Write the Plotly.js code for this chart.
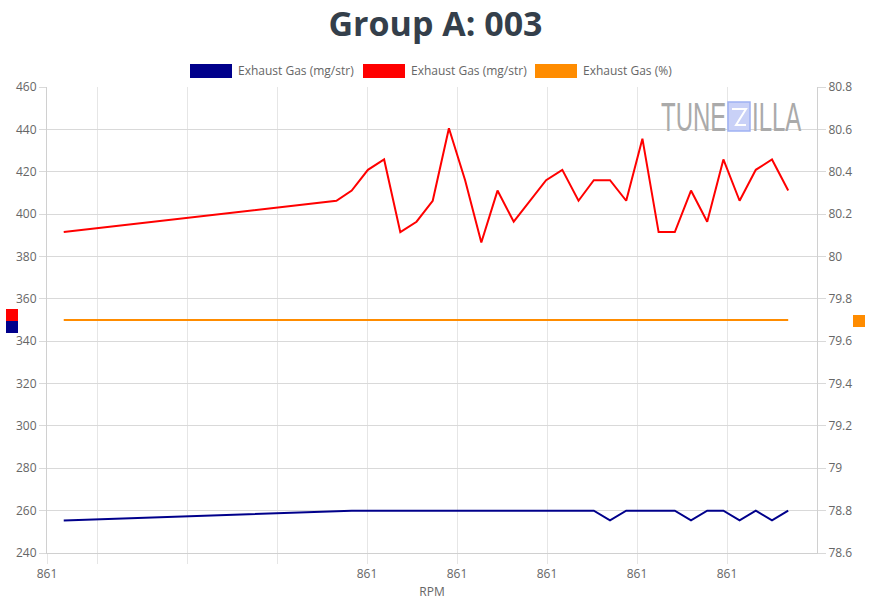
<!DOCTYPE html>
<html>
<head>
<meta charset="utf-8">
<script src="https://cdn.plot.ly/plotly-3.0.1.min.js"></script>
<style>
  html, body { margin: 0; padding: 0; background: #fff; }
  #wrap { position: relative; width: 871px; height: 600px; }
  #chart { width: 871px; height: 600px; }
  .wm { position: absolute; top: 97px; font-family: 'Liberation Sans', Arial, sans-serif;
        font-size: 40px; line-height: 40px; color: #aaaaaa; transform: scaleX(0.6);
        transform-origin: 0 0; white-space: nowrap; pointer-events: none; }
</style>
</head>
<body>
<div id="wrap">
  <div id="chart"></div>
  <div class="wm" style="left:661px">TUNE</div>
  <div class="wm" style="left:752px">ILLA</div>
</div>
<script>
// RPM readings (all round to 861 on the axis)
var rpm = [860.663, 860.966, 860.983, 861.001, 861.019, 861.037, 861.055, 861.073,
  861.091, 861.109, 861.127, 861.145, 861.163, 861.181, 861.199, 861.217,
  861.235, 861.252, 861.270, 861.288, 861.306, 861.324, 861.342, 861.360,
  861.378, 861.396, 861.414, 861.432, 861.450, 861.468];

var exhaustBlue = [255.4, 260, 260, 260, 260, 260, 260, 260,
  260, 260, 260, 260, 260, 260, 260, 260,
  260, 260, 255.4, 260, 260, 260, 260, 255.4,
  260, 260, 255.4, 260, 255.4, 260];

var exhaustRed = [391.5, 406.3, 411.1, 420.9, 425.8, 391.5, 396.4, 406.3,
  440.5, 416.0, 386.6, 411.1, 396.4, 406.3, 416.0, 420.9,
  406.3, 416.0, 416.0, 406.3, 435.6, 391.5, 391.5, 411.1,
  396.4, 425.8, 406.3, 420.9, 425.8, 411.1];

var exhaustPct = [79.7, 79.7, 79.7, 79.7, 79.7, 79.7, 79.7, 79.7,
  79.7, 79.7, 79.7, 79.7, 79.7, 79.7, 79.7, 79.7,
  79.7, 79.7, 79.7, 79.7, 79.7, 79.7, 79.7, 79.7,
  79.7, 79.7, 79.7, 79.7, 79.7, 79.7];

var seriesNames = ['Exhaust Gas (mg/str)', 'Exhaust Gas (mg/str)', 'Exhaust Gas (%)'];
var seriesColors = ['#00008b', '#ff0000', '#ff8c00'];

var xTickVals = [860.6444, 860.7, 860.8, 860.9, 861.0, 861.1, 861.2, 861.3, 861.4];
var xTickText = ['861', '', '', '', '861', '861', '861', '861', '861'];

var y2TickVals = [78.6, 78.8, 79.0, 79.2, 79.4, 79.6, 79.8, 80.0, 80.2, 80.4, 80.6, 80.8];
var y2TickText = ['78.6', '78.8', '79', '79.2', '79.4', '79.6', '79.8', '80', '80.2', '80.4', '80.6', '80.8'];

// plot area in pixels
var L = 47, R = 817, T = 87, B = 553;
function px(x) { return (x - L) / (R - L); }
function py(y) { return (B - y) / (B - T); }

var traces = [
  { x: rpm, y: exhaustBlue, name: seriesNames[0], type: 'scatter', mode: 'lines',
    line: { color: seriesColors[0], width: 2 }, yaxis: 'y' },
  { x: rpm, y: exhaustRed, name: seriesNames[1], type: 'scatter', mode: 'lines',
    line: { color: seriesColors[1], width: 2 }, yaxis: 'y' },
  { x: rpm, y: exhaustPct, name: seriesNames[2], type: 'scatter', mode: 'lines',
    line: { color: seriesColors[2], width: 2 }, yaxis: 'y2' }
];

var font = 'Open Sans, sans-serif';
var shapes = [];
var annotations = [];

// custom legend (boxes + text)
var legendBoxes = [190, 363, 535];
for (var i = 0; i < 3; i++) {
  shapes.push({ type: 'rect', xref: 'paper', yref: 'paper',
    x0: px(legendBoxes[i]), x1: px(legendBoxes[i] + 42), y0: py(78), y1: py(64),
    fillcolor: seriesColors[i], line: { width: 0 } });
  annotations.push({ xref: 'paper', yref: 'paper', x: px(legendBoxes[i] + 46), y: py(71),
    xanchor: 'left', yanchor: 'middle', showarrow: false, text: seriesNames[i],
    font: { family: font, size: 12, color: '#666' } });
}

// axis colour boxes
shapes.push({ type: 'rect', xref: 'paper', yref: 'paper', x0: px(6), x1: px(18), y0: py(321), y1: py(309),
  fillcolor: seriesColors[1], line: { width: 0 } });
shapes.push({ type: 'rect', xref: 'paper', yref: 'paper', x0: px(6), x1: px(18), y0: py(333), y1: py(321),
  fillcolor: seriesColors[0], line: { width: 0 } });
shapes.push({ type: 'rect', xref: 'paper', yref: 'paper', x0: px(853), x1: px(865), y0: py(327), y1: py(315),
  fillcolor: seriesColors[2], line: { width: 0 } });

// watermark box
shapes.push({ type: 'rect', xref: 'paper', yref: 'paper', x0: px(728), x1: px(750), y0: py(131), y1: py(102),
  fillcolor: '#c9d1f7', line: { color: '#9fb1f3', width: 1.5 } });
shapes.push({ type: 'path', xref: 'paper', yref: 'paper',
  path: 'M ' + px(732) + ' ' + py(109) + ' L ' + px(746) + ' ' + py(109) + ' L ' + px(736) + ' ' + py(125) + ' L ' + px(746) + ' ' + py(125),
  line: { color: '#ffffff', width: 2 } });

var layout = {
  width: 871, height: 600,
  margin: { l: L, r: 871 - R, t: T, b: 600 - B, pad: 0 },
  paper_bgcolor: '#fff', plot_bgcolor: '#fff',
  showlegend: false,
  font: { family: font, size: 12, color: '#666' },
  title: { text: 'Group A: 003', xref: 'container', x: 0.5, xanchor: 'center',
    yref: 'container', y: 1 - 24 / 600, yanchor: 'middle',
    font: { family: font, size: 34, color: '#343f4b', weight: 'bold' } },
  xaxis: {
    range: [860.6444, 861.5], tickmode: 'array', tickvals: xTickVals, ticktext: xTickText,
    showgrid: true, gridcolor: '#e6e6e6', zeroline: false,
    showline: true, linecolor: '#d0d0d0', mirror: false,
    ticks: 'outside', ticklen: 10, tickcolor: '#e6e6e6',
    tickfont: { family: font, size: 12, color: '#666' },
    title: { text: 'RPM', standoff: 10, font: { family: font, size: 12, color: '#666' } }
  },
  yaxis: {
    range: [240, 460], dtick: 20, tick0: 240,
    showgrid: true, gridcolor: '#d9d9d9', zeroline: false,
    showline: true, linecolor: '#d0d0d0',
    ticks: 'outside', ticklen: 7, tickcolor: '#d9d9d9',
    tickfont: { family: font, size: 12, color: '#666' }
  },
  yaxis2: {
    overlaying: 'y', side: 'right', range: [78.6, 80.8],
    tickmode: 'array', tickvals: y2TickVals, ticktext: y2TickText,
    showgrid: false, zeroline: false,
    showline: true, linecolor: '#d0d0d0',
    ticks: 'outside', ticklen: 8, tickcolor: '#d9d9d9',
    tickfont: { family: font, size: 12, color: '#666' }
  },
  shapes: shapes,
  annotations: annotations
};

Plotly.newPlot('chart', traces, layout, { displayModeBar: false, responsive: false });
</script>
</body>
</html>
